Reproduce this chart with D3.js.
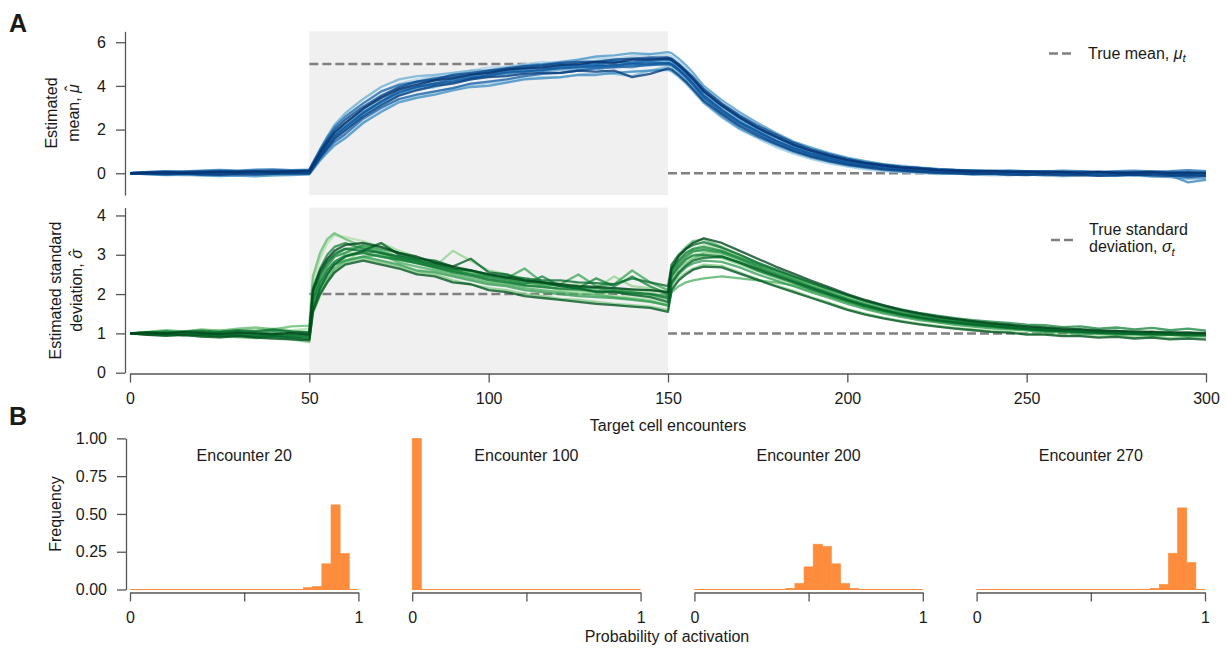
<!DOCTYPE html>
<html>
<head>
<meta charset="utf-8">
<script src="https://cdn.jsdelivr.net/npm/d3@7"></script>
<style>
  body { margin: 0; background: #fff; }
  svg text { font-family: "Liberation Sans", Arial, Helvetica, sans-serif; fill: #1a1a1a; }
</style>
</head>
<body>
<svg id="fig" width="1227" height="648"></svg>
<script>
// ---------- data ----------
// Encounter indices at which each simulated run is recorded
const encounters = [
  0,5,10,15,20,25,30,35,40,45,50,
  51,53,55,57,
  60,65,70,75,80,85,90,95,100,105,110,115,120,125,130,135,140,145,150,
  151,153,155,157,
  160,165,170,175,180,185,190,195,200,205,210,215,220,225,230,235,240,245,250,255,260,265,270,275,280,285,290,295,300
];

// Estimated mean per run (one row per run)
const meanRuns = [
  [0,0.05,0.08,0.06,0.1,0.12,0.1,0.14,0.15,0.12,0.16, 0.46,1.05,1.56,2.03, 2.5,3.2,3.7,4.1,4.3,4.42,4.5,4.7,4.85,4.88,5.0,5.1,5.05,5.2,5.3,5.25,5.35,5.45,5.4, 5.35,5.1,4.8,4.45, 3.9,3.2,2.7,2.2,1.8,1.4,1.12,0.9,0.68,0.55,0.42,0.36,0.28,0.2,0.18,0.12,0.1,0.14,0.08,0.05,0.08,0.03,0.0,0.04,0.06,0.02,0.05,-0.02,0.0],
  [0,-0.04,-0.07,-0.1,-0.08,-0.12,-0.1,-0.07,-0.09,-0.06,-0.04, 0.19,0.62,1.0,1.35, 1.7,2.35,2.9,3.35,3.5,3.7,3.9,4.05,4.1,4.2,4.35,4.4,4.38,4.5,4.6,4.55,4.65,4.7,4.72, 4.65,4.4,4.1,3.75, 3.2,2.55,2.0,1.6,1.2,0.9,0.65,0.45,0.3,0.18,0.1,0.05,0.02,-0.04,-0.02,-0.06,-0.1,-0.08,-0.05,-0.1,-0.14,-0.1,-0.12,-0.08,-0.1,-0.15,-0.12,-0.08,-0.1],
  [0,0.02,0.0,0.03,0.05,0.02,0.04,0.06,0.03,0.05,0.07, 0.35,0.88,1.35,1.77, 2.2,2.85,3.4,3.7,3.95,4.15,4.2,4.45,4.55,4.55,4.75,4.8,4.9,4.85,4.95,5.05,5.0,4.95,5.1, 5.05,4.8,4.5,4.15, 3.6,2.95,2.4,1.95,1.55,1.2,0.95,0.72,0.55,0.4,0.3,0.24,0.15,0.12,0.1,0.05,0.08,0.04,0.0,0.02,0.05,0.02,-0.03,0.0,0.03,0.0,-0.04,-0.01,0.02],
  [0,0.04,0.07,0.05,0.02,0.04,0.08,0.1,0.06,0.09,0.05, 0.3,0.79,1.22,1.61, 2.0,2.7,3.2,3.7,3.9,4.05,4.25,4.35,4.5,4.65,4.7,4.72,4.85,4.9,4.8,4.55,4.45,4.7,4.9, 4.85,4.6,4.3,3.95, 3.45,2.8,2.25,1.85,1.4,1.1,0.85,0.62,0.45,0.35,0.25,0.15,0.1,0.08,0.02,0.04,0.0,0.05,0.02,-0.02,0.0,0.04,0.02,-0.04,-0.06,-0.02,-0.05,0.0,-0.03],
  [0,-0.02,0.01,0.04,0.02,0.0,0.03,0.06,0.09,0.12,0.1, 0.44,1.1,1.69,2.22, 2.75,3.4,3.95,4.3,4.45,4.5,4.6,4.7,4.72,4.85,4.95,5.0,4.98,5.1,5.15,5.2,5.25,5.2,5.3, 5.25,5.0,4.7,4.35, 3.8,3.15,2.6,2.1,1.7,1.35,1.05,0.8,0.62,0.48,0.36,0.28,0.22,0.15,0.14,0.1,0.06,0.08,0.1,0.06,0.04,0.08,0.05,0.02,0.05,0.08,0.04,0.06,0.03],
  [0,0.0,-0.03,-0.05,-0.02,-0.04,-0.06,-0.03,0.0,-0.02,0.0, 0.26,0.76,1.2,1.6, 2.0,2.65,3.2,3.6,3.85,3.95,4.15,4.3,4.45,4.5,4.6,4.65,4.75,4.75,4.85,4.9,4.85,5.0,5.0, 4.95,4.7,4.35,4.0, 3.4,2.75,2.2,1.8,1.38,1.02,0.8,0.58,0.4,0.3,0.2,0.12,0.08,0.02,0.0,-0.03,0.0,-0.05,-0.02,-0.06,-0.04,0.0,-0.05,-0.08,-0.04,-0.02,-0.06,-0.1,-0.05],
  [0,0.03,0.01,-0.02,0.0,0.03,0.02,0.05,0.03,0.06,0.04, 0.3,0.8,1.25,1.65, 2.05,2.75,3.2,3.6,3.9,4.1,4.3,4.45,4.65,4.75,4.9,5.0,5.1,5.2,5.35,5.4,5.5,5.45,5.55, 5.5,5.25,4.95,4.6, 4.0,3.35,2.8,2.3,1.85,1.45,1.18,0.92,0.72,0.55,0.42,0.32,0.25,0.2,0.14,0.12,0.08,0.1,0.06,0.08,0.04,0.02,0.06,0.04,0.0,0.03,0.06,0.02,0.04],
  [0,-0.05,-0.08,-0.06,-0.1,-0.13,-0.11,-0.14,-0.1,-0.08,-0.05, 0.16,0.58,0.94,1.27, 1.6,2.3,2.8,3.25,3.45,3.6,3.8,3.95,4.0,4.15,4.3,4.35,4.4,4.5,4.5,4.6,4.65,4.7,4.75, 4.7,4.45,4.15,3.8, 3.25,2.6,2.05,1.65,1.3,0.98,0.72,0.52,0.36,0.25,0.15,0.08,0.05,0.0,-0.02,-0.05,-0.04,-0.08,-0.06,-0.1,-0.08,-0.05,-0.1,-0.12,-0.08,-0.14,-0.18,-0.25,-0.22],
  [0,0.04,0.06,0.03,0.05,0.08,0.05,0.02,0.06,0.04,0.08, 0.37,0.92,1.41,1.86, 2.3,2.95,3.5,3.9,4.1,4.25,4.4,4.5,4.7,4.75,4.8,4.95,5.0,4.95,5.05,5.15,5.1,5.25,5.2, 5.15,4.9,4.6,4.25, 3.7,3.05,2.5,2.05,1.65,1.28,1.0,0.78,0.58,0.45,0.35,0.25,0.2,0.14,0.1,0.08,0.1,0.05,0.03,0.06,0.02,0.0,0.04,0.02,-0.02,0.0,-0.1,-0.42,-0.3],
  [0,-0.02,0.01,0.0,-0.03,-0.01,0.02,0.0,0.03,0.01,0.04, 0.31,0.84,1.31,1.73, 2.15,2.8,3.25,3.8,3.95,4.1,4.3,4.4,4.45,4.65,4.7,4.7,4.85,4.9,4.95,4.9,5.05,5.1,5.05, 5.0,4.75,4.45,4.1, 3.55,2.9,2.35,1.9,1.5,1.15,0.9,0.7,0.5,0.38,0.3,0.2,0.16,0.1,0.06,0.08,0.04,0.02,0.04,0.0,-0.02,0.02,0.0,-0.03,0.0,-0.02,0.02,0.0,-0.02],
  [0,0.06,0.1,0.08,0.12,0.15,0.12,0.16,0.18,0.14,0.17, 0.49,1.09,1.63,2.11, 2.6,3.2,3.75,4.05,4.2,4.35,4.45,4.55,4.6,4.7,4.8,4.85,4.9,4.95,5.0,5.1,5.05,5.15,5.2, 5.15,4.9,4.6,4.3, 3.75,3.1,2.55,2.05,1.65,1.3,1.02,0.78,0.6,0.45,0.36,0.28,0.24,0.18,0.15,0.14,0.1,0.12,0.1,0.08,0.12,0.1,0.06,0.1,0.12,0.08,0.1,0.14,0.1],
  [0,-0.03,-0.05,-0.02,-0.06,-0.04,-0.01,0.02,0.0,0.03,0.01, 0.24,0.69,1.08,1.44, 1.8,2.5,3.0,3.4,3.6,3.75,3.9,4.1,4.2,4.3,4.45,4.55,4.6,4.7,4.8,4.85,4.9,4.95,5.0, 4.95,4.7,4.4,4.05, 3.45,2.8,2.28,1.82,1.45,1.1,0.84,0.64,0.46,0.34,0.24,0.16,0.1,0.06,0.04,0.0,0.02,-0.02,0.0,-0.04,-0.02,-0.06,-0.03,-0.05,-0.08,-0.05,-0.02,-0.06,-0.04],
  [0,0.01,0.03,0.02,0.0,0.03,0.05,0.03,0.04,0.06,0.05, 0.32,0.83,1.28,1.69, 2.1,2.75,3.3,3.7,3.95,4.1,4.2,4.35,4.5,4.6,4.65,4.75,4.8,4.85,4.9,4.95,5.0,5.02,5.05, 5.0,4.75,4.45,4.1, 3.55,2.9,2.35,1.92,1.5,1.16,0.9,0.68,0.5,0.37,0.28,0.2,0.14,0.1,0.08,0.05,0.04,0.03,0.02,0.0,0.02,-0.01,0.0,0.02,0.0,-0.02,0.0,0.02,0.0],
  [0,0.04,0.02,0.06,0.09,0.07,0.1,0.08,0.12,0.1,0.13, 0.43,1.01,1.52,1.99, 2.45,3.05,3.55,3.95,4.2,4.3,4.5,4.6,4.7,4.8,4.9,4.95,5.05,5.1,5.1,5.2,5.25,5.3,5.3, 5.25,5.0,4.7,4.4, 3.85,3.2,2.65,2.18,1.78,1.4,1.1,0.86,0.66,0.5,0.4,0.3,0.24,0.18,0.14,0.1,0.12,0.08,0.05,0.08,0.05,0.02,0.06,0.03,0.0,0.02,-0.06,-0.18,-0.12],
  [0,-0.01,-0.04,-0.02,-0.05,-0.07,-0.04,-0.06,-0.03,0.0,-0.02, 0.24,0.73,1.16,1.56, 1.95,2.6,3.1,3.55,3.8,4.0,4.1,4.3,4.4,4.45,4.55,4.6,4.6,4.7,4.65,4.7,4.4,4.55,4.8, 4.75,4.5,4.2,3.85, 3.3,2.7,2.15,1.72,1.35,1.02,0.76,0.56,0.4,0.28,0.18,0.12,0.06,0.02,0.0,-0.04,-0.02,-0.06,-0.08,-0.05,-0.1,-0.08,-0.12,-0.1,-0.06,-0.1,-0.12,-0.08,-0.12],
  [0,0.03,0.05,0.02,0.04,0.07,0.05,0.08,0.06,0.09,0.11, 0.39,0.94,1.42,1.86, 2.3,2.95,3.45,3.85,4.05,4.25,4.35,4.5,4.6,4.75,4.8,4.85,4.95,5.0,5.1,5.05,5.2,5.2,5.25, 5.2,4.95,4.65,4.3, 3.75,3.1,2.55,2.08,1.68,1.3,1.02,0.8,0.6,0.46,0.35,0.26,0.2,0.15,0.12,0.08,0.1,0.06,0.08,0.04,0.06,0.03,0.06,0.02,0.04,0.06,0.02,0.04,0.01]
];

// Estimated standard deviation per run
const sdRuns = [
  [1.0,1.03,1.06,1.02,1.05,1.09,1.06,1.1,1.13,1.08,1.12, 2.3,2.9,3.3,3.5, 3.45,3.35,3.2,3.05,2.95,2.8,2.7,2.6,2.45,2.4,2.3,2.25,2.2,2.25,2.15,2.1,2.1,2.05,1.95, 2.55,2.85,3.05,3.15, 3.25,3.15,2.95,2.72,2.55,2.38,2.2,2.05,1.88,1.74,1.62,1.52,1.44,1.37,1.31,1.26,1.22,1.17,1.15,1.1,1.09,1.05,1.06,1.02,1.03,0.99,1.0,0.97,0.99],
  [1.0,0.98,0.95,0.97,0.93,0.9,0.92,0.88,0.9,0.86,0.84, 1.5,1.95,2.3,2.55, 2.8,3.15,3.3,3.1,2.95,2.8,2.7,2.55,2.45,2.35,2.25,2.2,2.1,2.05,2.0,1.95,1.9,1.85,1.76, 2.25,2.55,2.75,2.9, 3.05,3.1,2.95,2.75,2.58,2.4,2.22,2.05,1.88,1.74,1.62,1.52,1.44,1.37,1.3,1.25,1.2,1.16,1.12,1.09,1.06,1.03,1.01,0.99,0.97,0.96,0.95,0.94,0.93],
  [1.0,1.02,0.99,0.96,0.98,0.95,0.97,0.94,0.92,0.95,0.91, 1.9,2.45,2.75,2.95, 3.05,3.05,2.95,2.9,2.8,2.7,3.1,2.85,2.6,2.5,2.4,2.3,2.25,2.2,2.15,2.45,2.2,2.15,2.05, 2.5,2.75,2.9,3.0, 3.05,3.0,2.82,2.62,2.46,2.3,2.14,1.98,1.82,1.68,1.56,1.46,1.38,1.31,1.26,1.21,1.17,1.13,1.1,1.07,1.05,1.03,1.01,1.0,0.99,0.98,0.98,0.97,0.97],
  [1.0,0.97,0.95,0.96,0.92,0.94,0.9,0.88,0.9,0.85,0.78, 1.6,2.05,2.35,2.6, 2.8,2.9,2.8,2.7,2.55,2.5,2.35,2.25,2.15,2.1,2.0,1.95,1.88,1.85,1.8,1.75,1.72,1.68,1.6, 2.15,2.4,2.55,2.65, 2.75,2.72,2.55,2.38,2.22,2.08,1.92,1.78,1.62,1.5,1.4,1.32,1.25,1.19,1.14,1.1,1.06,1.04,0.99,0.99,0.95,0.95,0.92,0.94,0.9,0.92,0.88,0.91,0.89],
  [1.0,1.01,0.98,1.0,0.97,0.99,0.95,0.97,0.96,0.93,0.94, 1.85,2.3,2.6,2.8, 2.95,3.05,2.95,2.85,2.8,2.65,2.55,2.5,2.35,2.3,2.2,2.2,2.12,2.1,2.05,2.05,2.0,1.95,1.88, 2.4,2.65,2.8,2.9, 2.98,2.92,2.76,2.58,2.42,2.27,2.1,1.95,1.8,1.67,1.56,1.47,1.39,1.32,1.27,1.22,1.18,1.14,1.11,1.08,1.06,1.04,1.02,1.01,1.0,0.99,0.99,0.98,0.98],
  [1.0,1.04,1.08,1.05,1.1,1.07,1.12,1.15,1.1,1.18,1.2, 2.45,3.05,3.4,3.55, 3.4,3.2,3.05,2.9,2.85,2.7,2.6,2.55,2.45,2.4,2.3,2.28,2.2,2.2,2.15,2.15,2.1,2.1,2.05, 2.7,3.0,3.2,3.35, 3.4,3.2,3.0,2.78,2.6,2.42,2.25,2.08,1.92,1.77,1.64,1.53,1.45,1.38,1.32,1.27,1.22,1.19,1.14,1.13,1.08,1.09,1.04,1.06,1.01,1.04,0.99,1.02,0.98],
  [1.0,0.99,0.96,0.98,0.95,0.97,0.94,0.96,0.93,0.91,0.9, 1.7,2.1,2.4,2.65, 2.85,2.95,3.0,2.8,2.7,2.6,2.5,2.4,2.3,2.25,2.15,2.1,2.05,2.0,1.98,1.92,1.88,1.82,1.7, 2.05,2.2,2.3,2.35, 2.4,2.45,2.4,2.35,2.3,2.22,2.08,1.95,1.8,1.66,1.54,1.45,1.37,1.3,1.25,1.2,1.16,1.12,1.09,1.06,1.04,1.02,1.0,0.99,0.98,0.97,0.96,0.96,0.95],
  [1.0,1.03,1.05,1.01,1.04,1.0,1.03,0.99,1.02,0.98,0.96, 2.0,2.55,2.85,3.05, 3.15,3.2,3.1,2.95,2.85,2.75,2.6,2.5,2.45,2.4,2.65,2.3,2.25,2.5,2.2,2.25,2.6,2.3,2.1, 2.6,2.85,3.0,3.1, 3.15,3.08,2.9,2.7,2.54,2.38,2.2,2.04,1.88,1.74,1.62,1.52,1.44,1.37,1.31,1.26,1.21,1.17,1.14,1.11,1.08,1.06,1.04,1.03,1.02,1.01,1.0,0.99,0.99],
  [1.0,0.98,0.99,0.96,0.97,0.94,0.96,0.93,0.95,0.92,0.9, 1.75,2.2,2.5,2.75, 2.85,2.95,2.85,2.75,2.6,2.55,2.45,2.35,2.25,2.2,2.1,2.05,2.0,1.95,1.92,1.9,1.85,1.8,1.72, 2.25,2.5,2.68,2.78, 2.85,2.82,2.68,2.5,2.35,2.2,2.04,1.9,1.75,1.62,1.51,1.42,1.34,1.28,1.22,1.17,1.13,1.1,1.08,1.03,1.03,0.99,1.0,0.96,0.98,0.94,0.97,0.93,0.95],
  [1.0,1.0,1.02,1.0,1.01,0.98,1.0,0.97,0.99,0.96,0.98, 1.95,2.4,2.7,2.95, 3.05,3.25,3.15,3.05,2.9,2.8,2.65,2.6,2.45,2.4,2.3,2.25,2.22,2.15,2.15,2.1,2.05,2.0,1.95, 2.5,2.78,2.95,3.08, 3.12,3.05,2.88,2.68,2.52,2.36,2.18,2.03,1.87,1.73,1.61,1.51,1.43,1.36,1.3,1.25,1.21,1.17,1.13,1.1,1.08,1.06,1.04,1.03,1.02,1.01,1.0,1.0,0.99],
  [1.0,1.02,1.05,1.03,1.0,1.04,1.06,1.03,1.07,1.04,1.02, 2.15,2.65,3.0,3.2, 3.3,3.15,3.05,2.9,2.8,2.7,2.6,2.5,2.4,2.35,2.25,2.45,2.2,2.15,2.4,2.2,2.45,2.2,2.0, 2.6,2.85,3.05,3.15, 3.2,3.1,2.92,2.75,2.6,2.44,2.28,2.12,1.97,1.83,1.71,1.61,1.52,1.45,1.39,1.34,1.3,1.27,1.22,1.21,1.16,1.18,1.12,1.15,1.1,1.14,1.08,1.12,1.07],
  [1.0,0.99,0.98,0.99,0.97,0.98,0.96,0.97,0.95,0.94,0.93, 1.85,2.3,2.6,2.82, 2.98,3.05,2.95,2.88,2.78,2.68,2.56,2.46,2.36,2.3,2.22,2.18,2.14,2.12,2.08,2.07,2.03,2.0,1.9, 2.45,2.7,2.88,2.98, 3.0,2.96,2.8,2.6,2.45,2.29,2.12,1.97,1.82,1.68,1.57,1.47,1.39,1.32,1.27,1.22,1.18,1.14,1.11,1.08,1.06,1.04,1.02,1.01,1.0,0.99,0.99,0.98,0.98],
  [1.0,1.03,1.01,1.05,1.07,1.04,1.08,1.06,1.1,1.05,1.03, 2.05,2.5,2.8,3.0, 3.15,3.1,3.05,2.95,2.85,2.75,2.65,2.6,2.5,2.45,2.4,2.35,2.35,2.3,2.28,2.25,2.4,2.3,2.2, 2.75,3.0,3.15,3.25, 3.32,3.18,3.0,2.8,2.63,2.46,2.29,2.13,1.97,1.82,1.69,1.58,1.49,1.41,1.35,1.29,1.24,1.21,1.15,1.14,1.09,1.1,1.05,1.07,1.02,1.04,0.99,1.02,0.98],
  [1.0,0.97,0.99,0.95,0.97,0.93,0.95,0.91,0.93,0.89,0.86, 1.6,2.15,2.5,2.75, 2.95,3.1,3.3,3.0,2.9,2.85,2.7,2.9,2.55,2.5,2.35,2.3,2.2,2.15,2.05,2.05,1.98,1.92,1.8, 2.3,2.55,2.72,2.85, 2.92,2.95,2.8,2.64,2.48,2.32,2.16,2.0,1.85,1.71,1.59,1.49,1.41,1.34,1.28,1.23,1.19,1.15,1.11,1.08,1.06,1.04,1.02,1.0,0.99,0.98,0.97,0.96,0.95],
  [1.0,0.96,0.94,0.96,0.92,0.9,0.93,0.89,0.87,0.85,0.82, 1.55,2.0,2.3,2.55, 2.75,2.85,2.75,2.65,2.5,2.45,2.3,2.25,2.1,2.05,1.95,1.9,1.85,1.8,1.75,1.72,1.68,1.65,1.55, 2.1,2.35,2.5,2.62, 2.7,2.68,2.52,2.36,2.2,2.05,1.9,1.75,1.6,1.48,1.38,1.3,1.23,1.17,1.12,1.08,1.04,1.02,0.97,0.97,0.93,0.93,0.89,0.91,0.87,0.89,0.85,0.87,0.84],
  [1.0,1.02,1.0,1.03,1.01,0.99,1.02,1.0,0.98,1.01,0.97, 2.1,2.6,2.9,3.1, 3.25,3.3,3.2,3.05,2.95,2.8,2.7,2.6,2.5,2.42,2.35,2.3,2.25,2.2,2.18,2.15,2.12,2.1,2.05, 2.65,2.95,3.15,3.3, 3.42,3.3,3.1,2.9,2.7,2.52,2.34,2.17,2.0,1.85,1.72,1.6,1.51,1.43,1.37,1.31,1.26,1.22,1.18,1.15,1.12,1.1,1.08,1.06,1.05,1.04,1.03,1.02,1.01]
];

// True generating parameters: [from encounter, to encounter, value]
const trueMean = [[0, 50, 0], [50, 150, 5], [150, 300, 0]];
const trueSd   = [[0, 50, 1], [50, 150, 2], [150, 300, 1]];
const shiftWindow = [50, 150];

// Tick values
const encounterTicks = [0, 50, 100, 150, 200, 250, 300];
const meanTicks = [0, 2, 4, 6];
const sdTicks = [0, 1, 2, 3, 4];
const freqTicks = [0, 0.25, 0.5, 0.75, 1];
const probTicks = [0, 0.5, 1];

// Histograms of activation probability (25 bins of width 0.04 over [0, 1])
const snapshotEncounters = [20, 100, 200, 270];
const histEnc20  = [0,0,0,0,0,0,0,0,0,0,0,0,0,0,0,0,0,0,0,0.012,0.02,0.17,0.56,0.238,0];
const histEnc100 = [1,0,0,0,0,0,0,0,0,0,0,0,0,0,0,0,0,0,0,0,0,0,0,0,0];
const histEnc200 = [0,0,0,0,0,0,0,0,0,0,0.008,0.04,0.15,0.30,0.285,0.17,0.04,0.007,0,0,0,0,0,0,0];
const histEnc270 = [0,0,0,0,0,0,0,0,0,0,0,0,0,0,0,0,0,0,0,0.008,0.033,0.24,0.54,0.179,0];
const histograms = [histEnc20, histEnc100, histEnc200, histEnc270];

// ---------- drawing ----------
const svg = d3.select("#fig");
const axisColor = "#555";
const dashColor = "#808080";
const tickFont = "16px";
const labelFont = "16px";

const x = d3.scaleLinear().domain([0, 300]).range([130, 1206]);
const yMean = d3.scaleLinear().domain([-1, 6.5]).range([195.1, 31.3]);
const ySd = d3.scaleLinear().domain([0, 4.2]).range([372.7, 207.6]);

function styleAxis(g) {
  g.select(".domain").attr("stroke", axisColor).attr("stroke-width", 1.3);
  g.selectAll(".tick line").attr("stroke", axisColor).attr("stroke-width", 1.3);
  g.selectAll(".tick text").attr("fill", "#1a1a1a").style("font-size", tickFont)
    .style("font-family", '"Liberation Sans", Arial, sans-serif');
}

function drawRunsPanel(yScale, runs, trueSegs, interp) {
  const g = svg.append("g");
  // shaded window where the target distribution is shifted
  g.append("rect")
    .attr("x", x(shiftWindow[0]))
    .attr("width", x(shiftWindow[1]) - x(shiftWindow[0]))
    .attr("y", yScale.range()[1])
    .attr("height", yScale.range()[0] - yScale.range()[1])
    .attr("fill", "#f0f0f0");

  // true parameter (dashed)
  g.selectAll("line.true").data(trueSegs).join("line")
    .attr("class", "true")
    .attr("x1", d => x(d[0])).attr("x2", d => x(d[1]))
    .attr("y1", d => yScale(d[2])).attr("y2", d => yScale(d[2]))
    .attr("stroke", dashColor).attr("stroke-width", 2.5)
    .attr("stroke-dasharray", "9,4");

  const line = d3.line()
    .defined((d, i) => i < encounters.length && d != null)
    .x((d, i) => x(encounters[i]))
    .y(d => yScale(d));

  const n = runs.length;
  g.selectAll("path.run").data(runs).join("path")
    .attr("class", "run")
    .attr("d", line)
    .attr("fill", "none")
    .attr("stroke", (d, i) => interp(0.32 + 0.68 * i / (n - 1)))
    .attr("stroke-width", 2.3)
    .attr("stroke-opacity", 0.78)
    .attr("stroke-linejoin", "round");

  return svg.append("g").attr("transform", "translate(125,0)");
}

// Panel A, top: estimated mean
drawRunsPanel(yMean, meanRuns, trueMean, d3.interpolateBlues)
  .call(d3.axisLeft(yMean).tickValues(meanTicks).tickSize(9).tickPadding(10).tickSizeOuter(0).tickFormat(d3.format("d")))
  .call(styleAxis);

// Panel A, bottom: estimated standard deviation
drawRunsPanel(ySd, sdRuns, trueSd, d3.interpolateGreens)
  .call(d3.axisLeft(ySd).tickValues(sdTicks).tickSize(9).tickPadding(10).tickSizeOuter(0).tickFormat(d3.format("d")))
  .call(styleAxis);

svg.append("g").attr("transform", `translate(0,${ySd(0) + 0.8})`)
  .call(d3.axisBottom(x).tickValues(encounterTicks).tickSize(9).tickPadding(10).tickSizeOuter(0))
  .call(styleAxis);

// axis titles, panel A (hatted symbol built from a letter plus a raised circumflex)
function twoLineLabel(cx, cy, first, second, symbol, gap) {
  const t = svg.append("text")
    .attr("transform", `translate(${cx},${cy}) rotate(-90)`)
    .attr("text-anchor", "middle")
    .style("font-size", labelFont);
  t.append("tspan").attr("x", 0).attr("y", -gap / 2).attr("dy", "0.35em").text(first);
  const l2 = t.append("tspan").attr("x", 0).attr("y", gap / 2).attr("dy", "0.35em");
  l2.append("tspan").text(second);
  l2.append("tspan").text(symbol).style("font-style", "italic");
  l2.append("tspan").text("\u02C6").attr("dx", "-0.42em").attr("dy", "-0.08em");
  return t;
}
twoLineLabel(62.3, 113, "Estimated", "mean, ", "\u03BC", 21.3);
twoLineLabel(65.8, 290.5, "Estimated standard", "deviation, ", "\u03C3", 21.3);

svg.append("text").attr("x", x(150)).attr("y", 431).attr("text-anchor", "middle")
  .style("font-size", labelFont).text("Target cell encounters");

// legends
function legendDash(x0, y0) {
  svg.append("line").attr("x1", x0).attr("x2", x0 + 26).attr("y1", y0).attr("y2", y0)
    .attr("stroke", dashColor).attr("stroke-width", 2.5).attr("stroke-dasharray", "9,4");
}
legendDash(1049, 53.5);
const lm = svg.append("text").attr("x", 1088).attr("y", 58.5).style("font-size", labelFont);
lm.append("tspan").text("True mean, ");
lm.append("tspan").text("\u03BC").style("font-style", "italic");
lm.append("tspan").text("t").style("font-style", "italic").style("font-size", "11.5px").attr("dy", 3.5);

legendDash(1051, 240);
svg.append("text").attr("x", 1089).attr("y", 235).style("font-size", labelFont).text("True standard");
const ls2 = svg.append("text").attr("x", 1089).attr("y", 252).style("font-size", labelFont);
ls2.append("tspan").text("deviation, ");
ls2.append("tspan").text("\u03C3").style("font-style", "italic");
ls2.append("tspan").text("t").style("font-style", "italic").style("font-size", "11.5px").attr("dy", 3.5);

// Panel B: histograms
const yHist = d3.scaleLinear().domain([0, 1]).range([589.5, 438.4]);
const binEdges = d3.range(0, 26).map(i => i / 25);
const panelStep = 282.2, panelWidth = 228.4;
const orange = "#fd8d3c";

histograms.forEach((freqs, k) => {
  const x0 = 130 + k * panelStep;
  const xh = d3.scaleLinear().domain([0, 1]).range([x0, x0 + panelWidth]);
  const g = svg.append("g");
  // zero line of the histogram
  g.append("line").attr("x1", xh(0)).attr("x2", xh(1)).attr("y1", yHist(0)).attr("y2", yHist(0))
    .attr("stroke", orange).attr("stroke-width", 1.2);
  g.selectAll("rect").data(freqs.map((f, i) => ({f, lo: binEdges[i], hi: binEdges[i + 1]})).filter(d => d.f > 0))
    .join("rect")
    .attr("x", d => xh(d.lo)).attr("width", d => xh(d.hi) - xh(d.lo))
    .attr("y", d => yHist(d.f)).attr("height", d => yHist(0) - yHist(d.f))
    .attr("fill", orange).attr("stroke", orange).attr("stroke-width", 0.6);

  svg.append("g").attr("transform", `translate(0,${yHist(0) + 3})`)
    .call(d3.axisBottom(xh).tickValues(probTicks).tickSize(9).tickPadding(10).tickSizeOuter(0)
      .tickFormat(d => d === 0.5 ? "" : d3.format("d")(d)))
    .call(styleAxis);

  svg.append("text").attr("x", xh(0.5)).attr("y", 461).attr("text-anchor", "middle")
    .style("font-size", labelFont).text(`Encounter ${snapshotEncounters[k]}`);
});

svg.append("g").attr("transform", "translate(126,0)")
  .call(d3.axisLeft(yHist).tickValues(freqTicks).tickSize(9).tickPadding(10).tickSizeOuter(0).tickFormat(d3.format(".2f")))
  .call(styleAxis);

svg.append("text").attr("transform", "translate(55,514) rotate(-90)").attr("text-anchor", "middle")
  .attr("dy", "0.35em").style("font-size", labelFont).text("Frequency");

svg.append("text").attr("x", 667).attr("y", 642).attr("text-anchor", "middle")
  .style("font-size", labelFont).text("Probability of activation");

// panel letters
svg.append("text").attr("x", 9).attr("y", 31.5).style("font-size", "25px").style("font-weight", "bold").text("A");
svg.append("text").attr("x", 9).attr("y", 425).style("font-size", "25px").style("font-weight", "bold").text("B");
</script>
</body>
</html>
